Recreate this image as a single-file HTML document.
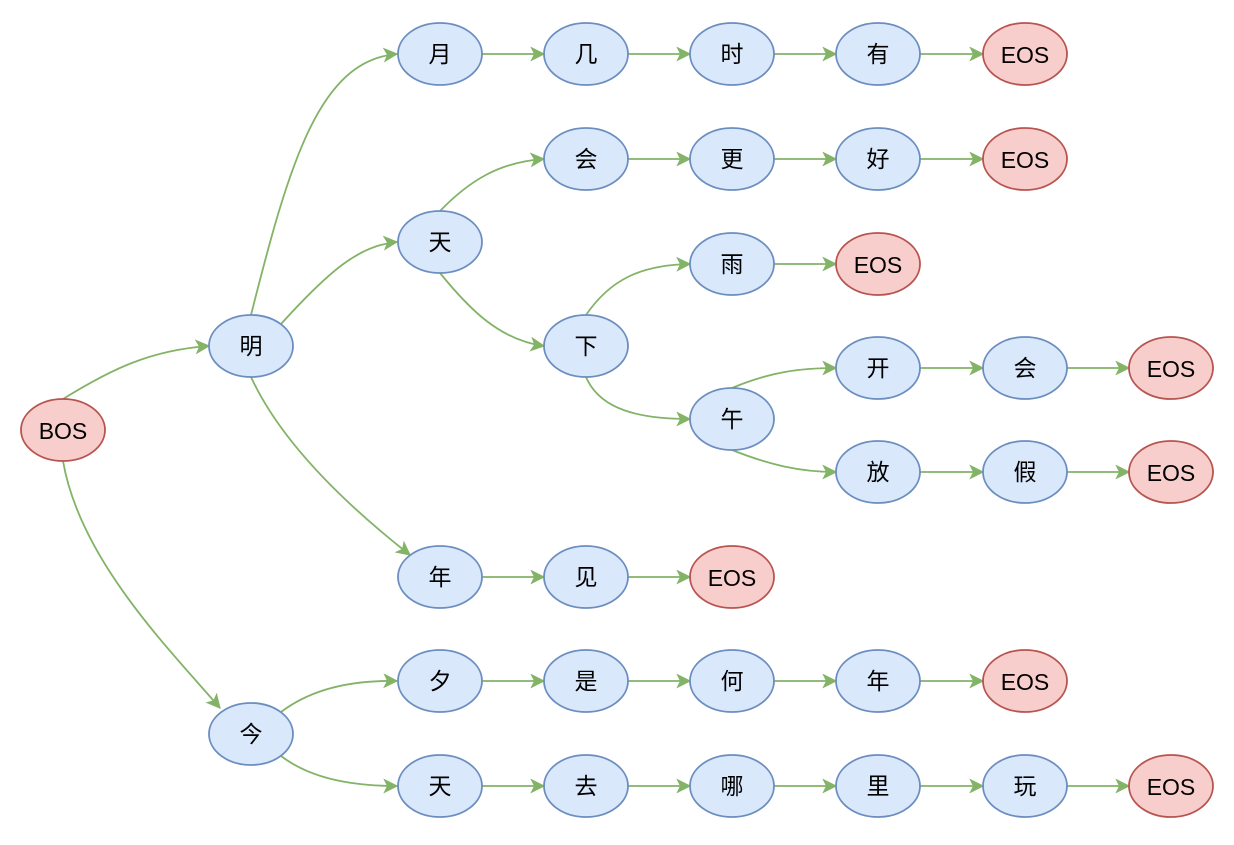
<!DOCTYPE html>
<html><head><meta charset="utf-8"><style>
html,body{margin:0;padding:0;background:#fff;}
text{font-family:"Liberation Sans","Noto Sans CJK SC",sans-serif;font-size:23px;fill:#000;}
</style></head><body>
<svg width="1234" height="840" viewBox="0 0 1234 840" xmlns="http://www.w3.org/2000/svg">
<defs>
<marker id="a" viewBox="0 0 12 12" refX="11" refY="6" markerWidth="15" markerHeight="15" markerUnits="userSpaceOnUse" orient="auto">
<path d="M0,0 L12,6 L0,12 L3,6 Z" fill="#82b366"/>
</marker>
</defs>
<g fill="none" stroke="#82b366" stroke-width="1.8" marker-end="url(#a)">
<path d="M63,399 C110,370 150,350 209,346"/>
<path d="M63,461 C80,560 170,650 220,708"/>
<path d="M251,315 C290,160 320,60 397,54"/>
<path d="M281,324 C330,270 360,245 397,242"/>
<path d="M251,377 C280,440 340,500 410,555"/>
<path d="M440,211 C470,180 500,162 544,159"/>
<path d="M440,273 C470,310 500,340 544,346"/>
<path d="M586,315 C610,280 640,265 690,264"/>
<path d="M586,377 C600,410 640,419 690,419"/>
<path d="M732,388 C770,372 800,368 836,368"/>
<path d="M732,450 C770,465 800,472 836,472"/>
<path d="M281,712 C310,690 350,680 397,681"/>
<path d="M281,756 C310,778 350,786 397,786"/>
<path d="M482,54 H544"/><path d="M628,54 H690"/><path d="M774,54 H836"/><path d="M920,54 H983"/>
<path d="M628,159 H690"/><path d="M774,159 H836"/><path d="M920,159 H983"/>
<path d="M774,264 H836"/>
<path d="M920,368 H983"/><path d="M1067,368 H1129"/>
<path d="M920,472 H983"/><path d="M1067,472 H1129"/>
<path d="M482,577 H544"/><path d="M628,577 H690"/>
<path d="M482,681 H544"/><path d="M628,681 H690"/><path d="M774,681 H836"/><path d="M920,681 H983"/>
<path d="M482,786 H544"/><path d="M628,786 H690"/><path d="M774,786 H836"/><path d="M920,786 H983"/><path d="M1067,786 H1129"/>
</g>
<g stroke-width="1.8">
<g fill="#dae8fc" stroke="#6c8ebf">
<ellipse cx="251" cy="346" rx="42" ry="31"/>
<ellipse cx="251" cy="734" rx="42" ry="31"/>
<ellipse cx="440" cy="54" rx="42" ry="31"/>
<ellipse cx="586" cy="54" rx="42" ry="31"/>
<ellipse cx="732" cy="54" rx="42" ry="31"/>
<ellipse cx="878" cy="54" rx="42" ry="31"/>
<ellipse cx="440" cy="242" rx="42" ry="31"/>
<ellipse cx="586" cy="159" rx="42" ry="31"/>
<ellipse cx="732" cy="159" rx="42" ry="31"/>
<ellipse cx="878" cy="159" rx="42" ry="31"/>
<ellipse cx="586" cy="346" rx="42" ry="31"/>
<ellipse cx="732" cy="264" rx="42" ry="31"/>
<ellipse cx="732" cy="419" rx="42" ry="31"/>
<ellipse cx="878" cy="368" rx="42" ry="31"/>
<ellipse cx="1025" cy="368" rx="42" ry="31"/>
<ellipse cx="878" cy="472" rx="42" ry="31"/>
<ellipse cx="1025" cy="472" rx="42" ry="31"/>
<ellipse cx="440" cy="577" rx="42" ry="31"/>
<ellipse cx="586" cy="577" rx="42" ry="31"/>
<ellipse cx="440" cy="681" rx="42" ry="31"/>
<ellipse cx="586" cy="681" rx="42" ry="31"/>
<ellipse cx="732" cy="681" rx="42" ry="31"/>
<ellipse cx="878" cy="681" rx="42" ry="31"/>
<ellipse cx="440" cy="786" rx="42" ry="31"/>
<ellipse cx="586" cy="786" rx="42" ry="31"/>
<ellipse cx="732" cy="786" rx="42" ry="31"/>
<ellipse cx="878" cy="786" rx="42" ry="31"/>
<ellipse cx="1025" cy="786" rx="42" ry="31"/>
</g>
<g fill="#f8cecc" stroke="#b85450">
<ellipse cx="63" cy="430" rx="42" ry="31"/>
<ellipse cx="1025" cy="54" rx="42" ry="31"/>
<ellipse cx="1025" cy="159" rx="42" ry="31"/>
<ellipse cx="878" cy="264" rx="42" ry="31"/>
<ellipse cx="1171" cy="368" rx="42" ry="31"/>
<ellipse cx="1171" cy="472" rx="42" ry="31"/>
<ellipse cx="732" cy="577" rx="42" ry="31"/>
<ellipse cx="1025" cy="681" rx="42" ry="31"/>
<ellipse cx="1171" cy="786" rx="42" ry="31"/>
</g>
</g>
<g text-anchor="middle" dominant-baseline="central">
<text x="63" y="431">BOS</text>
<text x="251" y="346">明</text><text x="251" y="734">今</text>
<text x="440" y="54">月</text><text x="586" y="54">几</text><text x="732" y="54">时</text><text x="878" y="54">有</text><text x="1025" y="55">EOS</text>
<text x="440" y="242">天</text><text x="586" y="159">会</text><text x="732" y="159">更</text><text x="878" y="159">好</text><text x="1025" y="160">EOS</text>
<text x="586" y="346">下</text><text x="732" y="264">雨</text><text x="878" y="265">EOS</text>
<text x="732" y="419">午</text><text x="878" y="368">开</text><text x="1025" y="368">会</text><text x="1171" y="369">EOS</text>
<text x="878" y="472">放</text><text x="1025" y="472">假</text><text x="1171" y="473">EOS</text>
<text x="440" y="577">年</text><text x="586" y="577">见</text><text x="732" y="578">EOS</text>
<text x="440" y="681">夕</text><text x="586" y="681">是</text><text x="732" y="681">何</text><text x="878" y="681">年</text><text x="1025" y="682">EOS</text>
<text x="440" y="786">天</text><text x="586" y="786">去</text><text x="732" y="786">哪</text><text x="878" y="786">里</text><text x="1025" y="786">玩</text><text x="1171" y="787">EOS</text>
</g>
</svg>
</body></html>
